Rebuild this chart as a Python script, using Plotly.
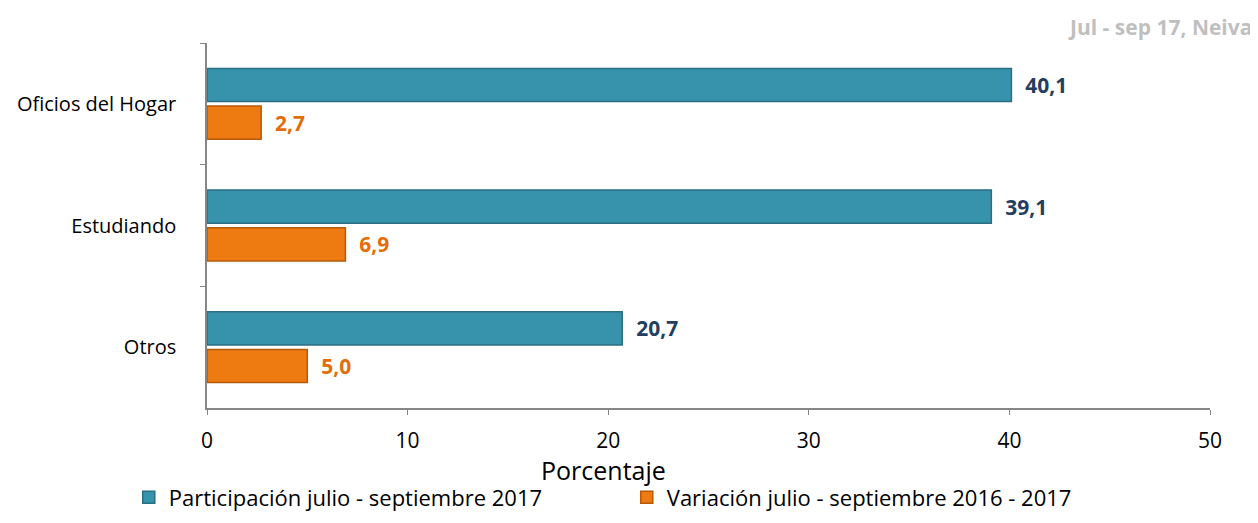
import plotly.graph_objects as go

categories = ["Oficios del Hogar", "Estudiando", "Otros"]
participacion = [40.1, 39.1, 20.7]
variacion = [2.7, 6.9, 5.0]
series_names = ["Participación julio - septiembre 2017", "Variación julio - septiembre 2016 - 2017"]
x_ticks = [0, 10, 20, 30, 40, 50]

FONT = "Open Sans, Carlito, Calibri, sans-serif"

fig = go.Figure()
fig.add_trace(go.Bar(
    y=categories, x=participacion, orientation="h", name=series_names[0],
    marker=dict(color="#3792AC", line=dict(color="#2A6F83", width=1.5)),
    texttemplate="  %{x:.1f}", textposition="outside", cliponaxis=False,
    textfont=dict(family=FONT, size=21, color="#233E60", weight="bold"),
))
fig.add_trace(go.Bar(
    y=categories, x=variacion, orientation="h", name=series_names[1],
    marker=dict(color="#EE7A12", line=dict(color="#B55A08", width=1.5)),
    texttemplate="  %{x:.1f}", textposition="outside", cliponaxis=False,
    textfont=dict(family=FONT, size=21, color="#E46C0A", weight="bold"),
))

fig.update_layout(
    width=1258, height=523,
    margin=dict(l=199, r=56, t=35, b=123, autoexpand=False),
    paper_bgcolor="white", plot_bgcolor="white",
    barmode="group", bargap=0.38, bargroupgap=0.12,
    separators=",.",
    font=dict(family=FONT, size=20, color="#000000"),
    showlegend=True,
    legend=dict(orientation="h", x=-0.078, xanchor="left", y=-0.245, yanchor="middle",
                font=dict(size=22, family=FONT), traceorder="normal",
                itemwidth=30, entrywidth=453, entrywidthmode="pixels"),
    annotations=[
        dict(text="<b>Jul - sep 17, Neiva</b>", xref="paper", yref="paper",
             x=1.044, y=1.0, xanchor="right", yanchor="bottom", showarrow=False,
             font=dict(size=21, color="#BFBFBF", family=FONT)),
        dict(text="Porcentaje", xref="paper", yref="paper",
             x=0.395, y=-0.17, xanchor="center", yanchor="middle", showarrow=False,
             font=dict(size=25, color="#000000", family=FONT)),
    ],
)
fig.update_xaxes(
    range=[0, 50], tickvals=x_ticks, showgrid=False, zeroline=False, automargin=False,
    showline=True, linecolor="#868686", linewidth=1.5,
    ticks="outside", ticklen=5, tickcolor="#868686", ticklabelstandoff=8,
    tickfont=dict(size=21),
)
fig.update_yaxes(
    autorange="reversed", showgrid=False, zeroline=False, automargin=False,
    showline=True, linecolor="#868686", linewidth=1.5,
    ticks="outside", ticklen=5, tickcolor="#868686", tickson="boundaries",
    ticklabelstandoff=25, tickfont=dict(size=20),
)

fig.write_html("out.html")
